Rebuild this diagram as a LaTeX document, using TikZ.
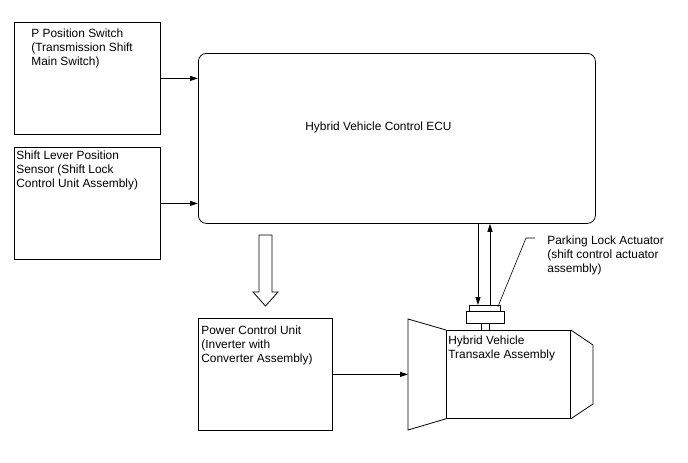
\documentclass[tikz,border=0pt]{standalone}
\usepackage{fontspec}
\setmainfont{Liberation Sans}
\usetikzlibrary{arrows.meta,positioning}

\begin{document}
\begin{tikzpicture}[x=1pt, y=-1pt, line width=0.8pt,
    arr/.style = {-{Triangle[length=8pt, width=5pt]}},
    lbl/.style = {anchor=north west, inner sep=0pt, align=left,
                  font=\fontsize{11.9}{14}\selectfont}]
            \useasboundingbox (0, 0) rectangle (688, 463);
            {
                \tikzset{every node/.style = {shape=rectangle, draw, inner sep=0pt, anchor=north west}}

                \node[minimum width=146pt, minimum height=112pt] (psw) at (14, 22) {};
                \node[minimum width=146pt, minimum height=112pt] (slp) at (14, 147) {};
                \node[minimum width=397pt, minimum height=170pt, rounded corners=8pt] (ecu) at (198, 53) {};
                \node[minimum width=134pt, minimum height=112pt] (pcu) at (198, 318) {};
                \node[minimum width=124pt, minimum height=88pt] (tx) at (446, 330) {};
                \node[minimum width=8pt, minimum height=7pt] (stem) at (481, 323) {};
                \node[minimum width=38pt, minimum height=12pt] (actb) at (466, 311) {};
                \node[minimum width=31pt, minimum height=6pt] (act) at (469, 305) {};
            }

            % texts
            \node[lbl] (psw text) at (31, 28) {P Position Switch\\(Transmission Shift\\Main Switch)};
            \node[lbl] (slp text) at (16, 150) {Shift Lever Position\\Sensor (Shift Lock\\Control Unit Assembly)};
            \node[lbl] (ecu text) at (305, 121) {Hybrid Vehicle Control ECU};
            \node[lbl] (pcu text) at (201, 325) {Power Control Unit\\(Inverter with\\Converter Assembly)};
            \node[lbl] (tx text) at (448, 335) {Hybrid Vehicle\\Transaxle Assembly};
            \node[lbl] (pla text) at (547, 235) {Parking Lock Actuator\\(shift control actuator\\assembly)};

            % transaxle ends
            \draw (tx.north west) -- (408, 319) -- (408, 430) -- (tx.south west);
            \draw (tx.north east) -- (593, 345) -- (593, 404) -- (tx.south east);
            \coordinate (txin) at (408, 374);

            % hollow arrow from the ECU down to the power control unit
            \draw (259, 235) -- (272, 235) -- (272, 292) -- (278, 292) -- (265.5, 306)
                -- (253, 292) -- (259, 292) -- cycle;

            \draw[arr] (psw) -- (psw -| ecu.west);
            \draw[arr] (slp) -- (slp -| ecu.west);
            \draw[arr] (pcu) -- (pcu -| txin);

            \draw[arr] ([xshift=9pt]act.north west |- ecu.south) -- ([xshift=9pt]act.north west);
            \draw[arr] ([xshift=21pt]act.north west) -- ([xshift=21pt]act.north west |- ecu.south);

            % leader to the actuator label
            \draw[line width=0.6pt] ([xshift=-3pt, yshift=-2pt]act.north east) -- (526, 238) -- ([xshift=-12pt, yshift=-3pt]pla text.north west);

        \end{tikzpicture}
\end{document}
